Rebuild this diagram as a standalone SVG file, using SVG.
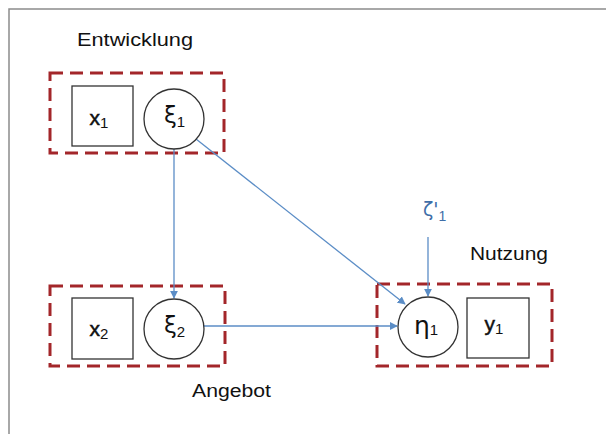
<svg xmlns="http://www.w3.org/2000/svg" width="606" height="434" viewBox="0 0 606 434">
  <style>
    .frame { fill: none; stroke: #8c8c8c; stroke-width: 1.5; }
    .group { fill: none; stroke: #a3262a; stroke-width: 3; stroke-dasharray: 13 7; }
    .obs { fill: #ffffff; stroke: #333333; stroke-width: 1.3; }
    .lat { fill: #ffffff; stroke: #333333; stroke-width: 1.3; }
    .lbl { font-family: "Liberation Sans", Arial, sans-serif; font-size: 21px; fill: #111111; stroke: #111111; stroke-width: 0.5; }
    .sym { font-family: "DejaVu Sans", "Liberation Sans", sans-serif; font-size: 23px; fill: #111111; }
    .sub { font-family: "Liberation Sans", Arial, sans-serif; font-size: 15px; stroke-width: 0; }
    .title { font-family: "Liberation Sans", Arial, sans-serif; font-size: 18px; fill: #111111; }
    .edge { stroke: #5b8dc6; stroke-width: 1.3; fill: none; marker-end: url(#arr); }
    .err { font-family: "DejaVu Sans", "Liberation Sans", sans-serif; font-size: 19px; fill: #3f6ea8; }
  </style>
  <defs>
    <marker id="arr" viewBox="0 0 10 10" refX="9" refY="5" markerWidth="8" markerHeight="8" markerUnits="userSpaceOnUse" orient="auto">
      <path d="M0,0 L10,5 L0,10 z" fill="#5b8dc6"/>
    </marker>
  </defs>

  <rect width="606" height="434" fill="#ffffff"/>
  <path class="frame" d="M9,434 V9 H606"/>

  <!-- group outlines -->
  <rect class="group" x="50" y="73" width="174" height="80"/>
  <rect class="group" x="50" y="286" width="175" height="80"/>
  <rect class="group" x="377" y="284" width="175" height="82"/>

  <!-- group titles -->
  <text class="title" x="77" y="46" textLength="116" lengthAdjust="spacingAndGlyphs">Entwicklung</text>
  <text class="title" x="192" y="397" textLength="79" lengthAdjust="spacingAndGlyphs">Angebot</text>
  <text class="title" x="470" y="260" textLength="78" lengthAdjust="spacingAndGlyphs">Nutzung</text>

  <!-- connectors -->
  <g id="edges">
    <line class="edge" x1="174" y1="149" x2="174" y2="298"/>
    <line class="edge" x1="196" y1="139" x2="405" y2="304"/>
    <line class="edge" x1="204" y1="326" x2="397" y2="326"/>
    <line class="edge" x1="428" y1="237" x2="428" y2="296"/>
  </g>

  <g id="x1">
    <rect class="obs" x="72" y="86" width="61" height="60"/>
    <text class="lbl" x="89.5" y="125">x<tspan class="sub" dy="3">1</tspan></text>
  </g>
  <g id="xi1">
    <circle class="lat" cx="174" cy="119" r="30"/>
    <text class="sym" x="164" y="123">ξ<tspan class="sub" dy="4">1</tspan></text>
  </g>
  <g id="x2">
    <rect class="obs" x="72" y="298" width="61" height="61"/>
    <text class="lbl" x="89.5" y="336">x<tspan class="sub" dy="3">2</tspan></text>
  </g>
  <g id="xi2">
    <circle class="lat" cx="174" cy="329" r="30"/>
    <text class="sym" x="164" y="333">ξ<tspan class="sub" dy="4">2</tspan></text>
  </g>
  <g id="eta1">
    <circle class="lat" cx="428" cy="327" r="30"/>
    <text class="sym" x="414" y="334" style="font-size:25px">η<tspan class="sub" dy="1">1</tspan></text>
  </g>
  <g id="y1">
    <rect class="obs" x="467" y="298" width="62" height="60"/>
    <text class="lbl" x="484.5" y="331">y<tspan class="sub" dy="3">1</tspan></text>
  </g>
  <g id="zeta1">
    <text class="err" x="423" y="216">ζ'<tspan class="sub" dy="5" style="font-size:14px">1</tspan></text>
  </g>
</svg>
